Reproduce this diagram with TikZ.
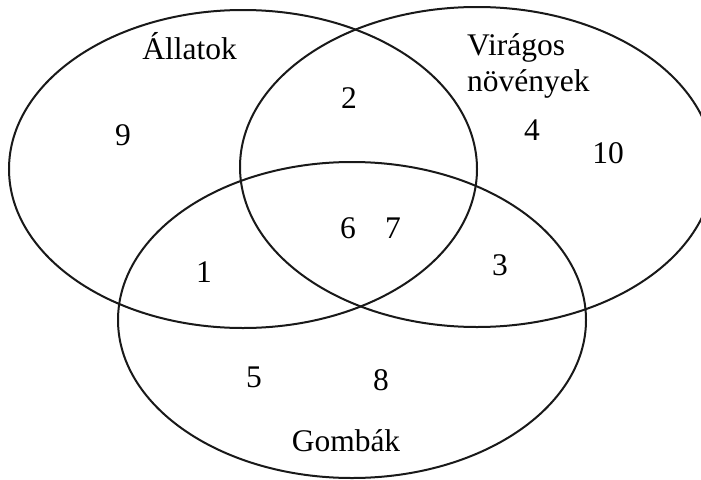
\documentclass[tikz,border=0pt]{standalone}
\usepackage{fontspec}
\setmainfont{Liberation Serif}
\usetikzlibrary{shapes.geometric}
\begin{document}
\begin{tikzpicture}[x=1pt,y=-1pt,
  set/.style={ellipse,draw=black!90,line width=2pt,inner sep=0pt},
  lbl/.style={anchor=base,inner sep=0pt,font=\fontsize{31.5}{36}\selectfont}]
\useasboundingbox (0,0) rectangle (701,479);
\clip (0,0) rectangle (701,479);
\fill[white] (0,0) rectangle (701,479);
\node[set,minimum width=468pt,minimum height=318pt] (A) at (243,169) {};
\node[set,minimum width=474pt,minimum height=320pt] (V) at (477,167) {};
\node[set,minimum width=468pt,minimum height=316pt] (G) at (352,320) {};
\node[lbl] (tA) at (189.5,59) {Állatok};
\node[lbl,anchor=base west,align=left] (tV) at (467,91) {Virágos\\növények};
\node[lbl] (tG) at (346,451) {Gombák};
\node[lbl] (n9) at (123,145) {9};
\node[lbl] (n2) at (349,108) {2};
\node[lbl] (n4) at (532,140) {4};
\node[lbl] (n10) at (608,163) {10};
\node[lbl] (n6) at (348,238) {6};
\node[lbl] (n7) at (393,238) {7};
\node[lbl] (n1) at (204,282) {1};
\node[lbl] (n3) at (500,275) {3};
\node[lbl] (n5) at (254,387) {5};
\node[lbl] (n8) at (381,390) {8};
\end{tikzpicture}
\end{document}
